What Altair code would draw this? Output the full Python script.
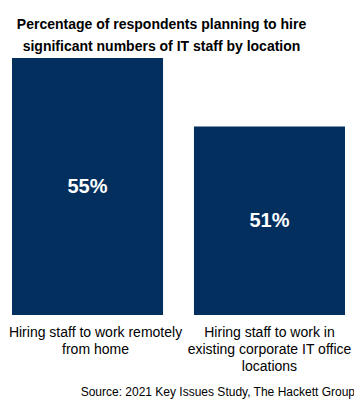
import altair as alt
import pandas as pd

categories = ["Hiring staff to work remotely|from home",
              "Hiring staff to work in|existing corporate IT office|locations"]
values = [55, 51]
labels = ["55%", "51%"]
baseline = 40

df = pd.DataFrame({"cat": categories, "value": values, "label": labels})

base = alt.Chart(df).encode(
    x=alt.X("cat:N", sort=None,
            scale=alt.Scale(paddingInner=0.17, paddingOuter=0),
            axis=alt.Axis(title=None, labelAngle=0, domain=False, ticks=False,
                          labelFont="Liberation Sans", labelFontSize=14,
                          labelColor="black", labelPadding=10, labelLineHeight=17,
                          labelBaseline="top",
                          labelOffset={"expr": "datum.index == 0 ? 8 : 0"},
                          labelExpr="split(datum.label, '|')"))
)

bars = base.mark_bar(color="#022f5e").encode(
    y=alt.Y("value:Q", scale=alt.Scale(domain=[baseline, 55], zero=False, nice=False),
            axis=None),
    y2=alt.datum(baseline),
)

txt = base.transform_calculate(mid="(datum.value + %d) / 2" % baseline).mark_text(
    color="white", font="Liberation Sans", fontWeight="bold", fontSize=20,
    baseline="middle").encode(
    y=alt.Y("mid:Q"),
    text="label:N",
)

source = alt.Chart(pd.DataFrame({"t": ["Source: 2021 Key Issues Study, The Hackett Group"]})).mark_text(
    align="right", baseline="middle", font="Liberation Sans", fontSize=12, color="black"
).encode(x=alt.value(343), y=alt.value(334), text="t:N")

chart = alt.layer(bars, txt, source).properties(
    width=333, height=257,
    autosize="none",
    padding={"left": 4, "top": 50, "right": 9, "bottom": 84},
    title=alt.TitleParams(
        text=["Percentage of respondents planning to hire",
              "significant numbers of IT staff by location"],
        font="Liberation Sans", fontSize=14, fontWeight="bold", color="black",
        anchor="middle", dx=-17, lineHeight=22, offset=4,
    ),
).configure_view(stroke=None)

chart.save("out.html", embed_options={"renderer": "svg", "actions": False})
